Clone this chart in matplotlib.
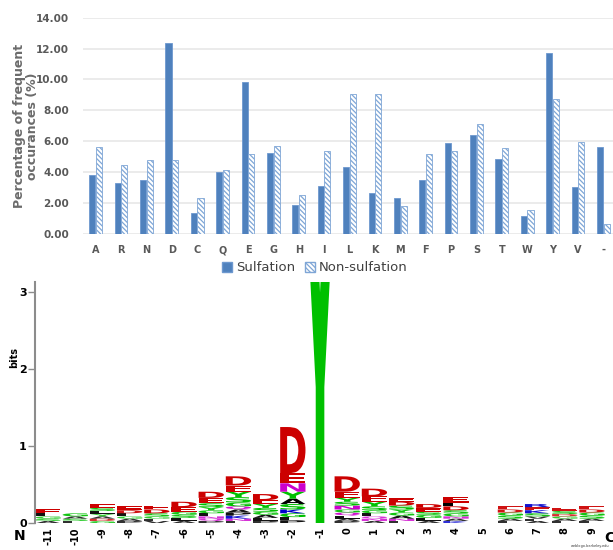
import numpy as np
import matplotlib.pyplot as plt
from matplotlib.textpath import TextPath
from matplotlib.patches import PathPatch, Patch
from matplotlib.font_manager import FontProperties
from matplotlib.transforms import Affine2D

residues = ['A', 'R', 'N', 'D', 'C', 'Q', 'E', 'G', 'H', 'I', 'L', 'K', 'M', 'F', 'P', 'S', 'T', 'W', 'Y', 'V', '-']
sulfation = [3.79, 3.30, 3.47, 12.35, 1.36, 4.01, 9.81, 5.22, 1.85, 3.08, 4.31,
             2.63, 2.35, 3.47, 5.91, 6.38, 4.85, 1.19, 11.72, 3.06, 5.63]
non_sulfation = [5.60, 4.48, 4.76, 4.76, 2.35, 4.14, 5.17, 5.71, 2.52, 5.37, 9.05,
                 9.05, 1.79, 5.17, 5.37, 7.09, 5.58, 1.53, 8.71, 5.93, 0.67]

# sequence logo: position -> (letter, bits) pairs
positions = list(range(-11, 10))
logo = {
    -11: [('A', 0.03), ('S', 0.03), ('G', 0.03), ('L', 0.04), ('E', 0.05)],
    -10: [('L', 0.03), ('S', 0.03), ('A', 0.03), ('G', 0.04)],
    -9: [('G', 0.03), ('D', 0.03), ('A', 0.03), ('L', 0.04), ('S', 0.04), ('E', 0.05), ('Y', 0.03)],
    -8: [('P', 0.03), ('A', 0.03), ('G', 0.03), ('L', 0.04), ('D', 0.04), ('E', 0.05)],
    -7: [('V', 0.03), ('L', 0.03), ('G', 0.03), ('S', 0.04), ('D', 0.05), ('E', 0.05)],
    -6: [('A', 0.03), ('L', 0.04), ('S', 0.04), ('G', 0.04), ('E', 0.06), ('D', 0.07)],
    -5: [('P', 0.03), ('Q', 0.03), ('N', 0.03), ('L', 0.04), ('G', 0.04), ('S', 0.05), ('E', 0.07), ('D', 0.08), ('Y', 0.04)],
    -4: [('K', 0.04), ('P', 0.04), ('L', 0.03), ('N', 0.03), ('A', 0.04), ('Q', 0.04), ('G', 0.05), ('S', 0.07), ('E', 0.08), ('Y', 0.07), ('D', 0.12)],
    -3: [('P', 0.03), ('L', 0.04), ('A', 0.04), ('G', 0.04), ('S', 0.05), ('Y', 0.05), ('E', 0.05), ('D', 0.08)],
    -2: [('P', 0.04), ('G', 0.05), ('K', 0.05), ('L', 0.04), ('S', 0.07), ('A', 0.07), ('N', 0.11), ('Y', 0.09), ('E', 0.13), ('D', 0.60)],
    -1: [('Y', 4.20)],
    0: [('P', 0.03), ('L', 0.04), ('A', 0.03), ('Q', 0.04), ('G', 0.04), ('N', 0.05), ('S', 0.05), ('Y', 0.05), ('E', 0.08), ('D', 0.20)],
    1: [('L', 0.04), ('A', 0.03), ('N', 0.03), ('Q', 0.03), ('G', 0.04), ('S', 0.05), ('Y', 0.06), ('E', 0.07), ('D', 0.10)],
    2: [('L', 0.03), ('N', 0.03), ('A', 0.04), ('G', 0.04), ('Y', 0.04), ('S', 0.05), ('D', 0.05), ('E', 0.05)],
    3: [('A', 0.03), ('L', 0.04), ('G', 0.04), ('S', 0.04), ('E', 0.05), ('D', 0.05)],
    4: [('K', 0.03), ('A', 0.03), ('N', 0.03), ('G', 0.04), ('S', 0.04), ('D', 0.05), ('L', 0.05), ('E', 0.07)],
    5: [],
    6: [('L', 0.03), ('A', 0.03), ('S', 0.04), ('G', 0.04), ('D', 0.04), ('E', 0.04)],
    7: [('A', 0.03), ('L', 0.03), ('V', 0.03), ('S', 0.04), ('K', 0.04), ('E', 0.04), ('R', 0.04)],
    8: [('L', 0.03), ('A', 0.03), ('G', 0.03), ('D', 0.03), ('S', 0.04), ('E', 0.04)],
    9: [('L', 0.03), ('A', 0.03), ('S', 0.04), ('G', 0.04), ('D', 0.04), ('E', 0.04)],
}

aa_colors = {}
for a in 'GSTYC':
    aa_colors[a] = '#00c000'
for a in 'NQ':
    aa_colors[a] = '#cc00cc'
for a in 'KRH':
    aa_colors[a] = '#0000cc'
for a in 'DE':
    aa_colors[a] = '#cc0000'
for a in 'AVLIPWFM':
    aa_colors[a] = '#000000'

fig = plt.figure(figsize=(6.13, 5.5), dpi=100)

# ---- top: bar chart
ax = fig.add_axes([83/613, 316/550, 533/613, 216.3/550])
x = np.arange(len(residues))
w = 0.24
blue = '#4f81bd'
hatch = '\\' * 7
plt.rcParams['hatch.linewidth'] = 0.9
ax.bar(x - 0.13, sulfation, w, color=blue, edgecolor='#6d98cf', lw=0.6, zorder=3)
ax.bar(x + 0.13, non_sulfation, w, color='white', edgecolor='#7fa6d6', lw=0.6,
       hatch=hatch, zorder=3)
ax.set_xlim(-0.5, len(residues) - 0.5)
ax.set_ylim(0, 14)
ax.set_yticks(np.arange(0, 15, 2))
ax.set_yticklabels(['%.2f' % v for v in np.arange(0, 15, 2)])
ax.set_xticks(x)
ax.set_xticklabels(residues)
ax.grid(axis='y', color='#e8e8e8', lw=1.2, zorder=0)
for s in ax.spines.values():
    s.set_visible(False)
ax.tick_params(axis='both', length=0, colors='#595959')
ax.tick_params(axis='y', labelsize=7.5, pad=10)
ax.tick_params(axis='x', labelsize=7, pad=8)
for t in ax.get_xticklabels() + ax.get_yticklabels():
    t.set_fontweight('bold')
ax.set_ylabel('Percentage of frequent\noccurances (%)', fontsize=9,
              fontweight='bold', color='#6b6b6b', linespacing=1.0)
ax.yaxis.set_label_coords(-0.083, 0.5)
handles = [Patch(facecolor=blue, edgecolor='#6d98cf'),
           Patch(facecolor='white', edgecolor='#7fa6d6', hatch=hatch)]
ax.legend(handles, ['Sulfation', 'Non-sulfation'], loc='center', ncol=2,
          bbox_to_anchor=(0.435, -0.157), frameon=False, fontsize=9.5,
          handlelength=0.75, handleheight=0.75, handletextpad=0.3,
          columnspacing=0.8, labelcolor='#404040')

# ---- bottom: sequence logo
lg = fig.add_axes([35/613, 26.7/550, 570.6/613, 241.6/550])
lg.set_xlim(-11.48, 9.5)
lg.set_ylim(0, 3.137)
fp = FontProperties(family='DejaVu Sans', weight='bold')

for pos in positions:
    y0 = 0.0
    for ch, h in sorted(logo[pos], key=lambda p: p[1]):
        tp = TextPath((0, 0), ch, size=1, prop=fp)
        bb = tp.get_extents()
        lw_ = 0.93
        tr = Affine2D().translate(-bb.x0, -bb.y0).scale(lw_ / bb.width, h / bb.height)\
            .translate(pos - lw_ / 2, y0)
        edge = 1.6 if h > 2 else 0
        alpha = min(1.0, 0.45 + h * 12)
        lg.add_patch(PathPatch(tr.transform_path(tp), facecolor=aa_colors[ch],
                               edgecolor=aa_colors[ch], lw=edge, alpha=alpha))
        y0 += h

for s in ['top', 'right', 'bottom']:
    lg.spines[s].set_visible(False)
lg.spines['left'].set_color('#8c8c8c')
lg.spines['left'].set_linewidth(1.5)
lg.set_yticks([0, 1, 2, 3])
lg.tick_params(axis='y', length=5, width=1, colors='#8c8c8c', pad=1,
               labelsize=8, labelcolor='black')
lg.set_xticks(positions)
lg.set_xticklabels([str(p) for p in positions], rotation=90)
lg.tick_params(axis='x', length=0, pad=3, labelsize=7)
for t in lg.get_xticklabels() + lg.get_yticklabels():
    t.set_fontweight('bold')
fig.text(14/613, 1 - 358/550, 'bits', rotation=90, ha='center', va='center',
         fontsize=7, fontweight='bold')
fig.text(20/613, 1 - 536/550, 'N', ha='center', va='center', fontsize=10, fontweight='bold')
fig.text(609/613, 1 - 538/550, 'C', ha='center', va='center', fontsize=10, fontweight='bold')
fig.text(0.995, 0.003, 'weblogo.berkeley.edu', ha='right', va='bottom', fontsize=2.5,
         color='#333333')

fig.savefig('out.png', dpi=100)
